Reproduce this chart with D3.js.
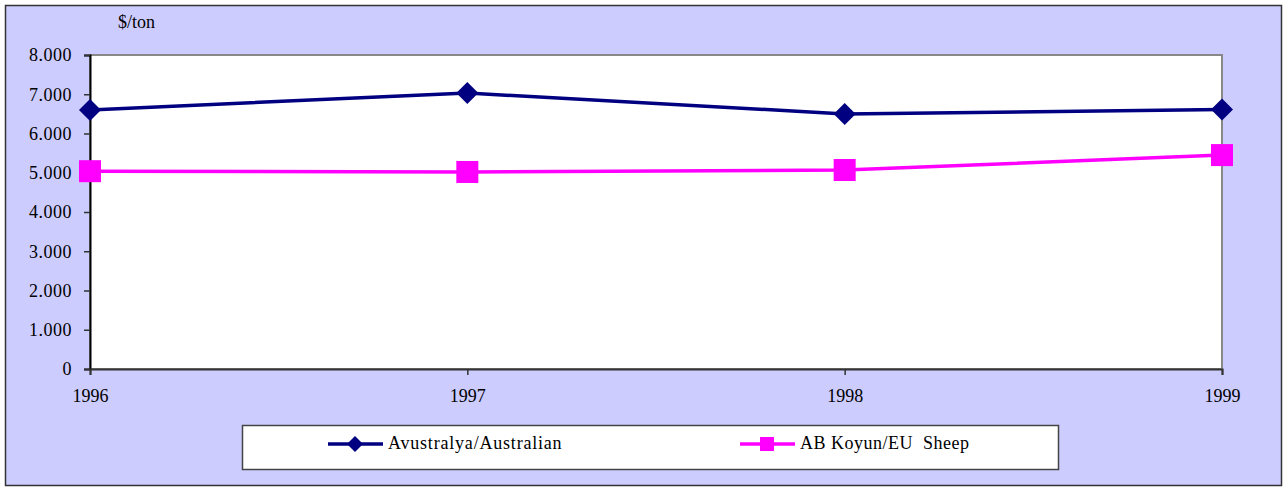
<!DOCTYPE html>
<html>
<head>
<meta charset="utf-8">
<script src="https://cdn.jsdelivr.net/npm/d3@7"></script>
<style>
	body { margin: 0; background: #fff; }
</style>
</head>
<body>
<svg id="chart" width="1285" height="488"></svg>
<script>
// Chart data
var years = ["1996", "1997", "1998", "1999"];
var australian = [6600, 7030, 6500, 6610];
var euSheep = [5040, 5020, 5070, 5450];
var yTicks = [0, 1000, 2000, 3000, 4000, 5000, 6000, 7000, 8000];
var seriesNames = ["Avustralya/Australian", "AB Koyun/EU  Sheep"];

var serif = "'Liberation Serif', 'Times New Roman', Times, 'DejaVu Serif', serif";

var svg = d3.select("#chart");

// outer frame
svg.append("rect")
	.attr("x", 5.5).attr("y", 5.5)
	.attr("width", 1276).attr("height", 480)
	.attr("fill", "#ccccff")
	.attr("stroke", "#333")
	.attr("stroke-width", 1.5);

var margin = {left: 90, top: 55, right: 1222, bottom: 369};

var x = d3.scalePoint()
	.domain(years)
	.range([margin.left, margin.right]);

var y = d3.scaleLinear()
	.domain([0, 8000])
	.range([margin.bottom, margin.top]);

// plot area
svg.append("rect")
	.attr("x", margin.left).attr("y", margin.top)
	.attr("width", margin.right - margin.left)
	.attr("height", margin.bottom - margin.top)
	.attr("fill", "#fff")
	.attr("stroke", "#888")
	.attr("stroke-width", 2);

// y axis
var yAxis = svg.append("g")
	.attr("transform", "translate(" + margin.left + ",0)")
	.call(d3.axisLeft(y)
		.tickValues(yTicks)
		.tickSize(6)
		.tickPadding(12)
		.tickFormat(function(d) { return d === 0 ? "0" : d3.format(",")(d).replace(",", "."); }));
yAxis.attr("font-family", null).attr("font-size", null);
yAxis.select(".domain").attr("stroke", "#000").attr("stroke-width", 2);
yAxis.selectAll(".tick line").attr("stroke", "#333").attr("stroke-width", 1.5);
yAxis.selectAll("text")
	.style("font-family", serif)
	.style("font-size", "18px")
	.style("letter-spacing", "0.5px")
	.style("fill", "#000");

// x axis
var xAxis = svg.append("g")
	.attr("transform", "translate(0," + margin.bottom + ")")
	.call(d3.axisBottom(x)
		.tickSize(6)
		.tickPadding(14));
xAxis.attr("font-family", null).attr("font-size", null);
xAxis.select(".domain").attr("stroke", "#333").attr("stroke-width", 2);
xAxis.selectAll(".tick line").attr("stroke", "#333").attr("stroke-width", 1.5);
xAxis.selectAll("text")
	.style("font-family", serif)
	.style("font-size", "18px")
	.style("fill", "#000");

// unit label
svg.append("text")
	.attr("x", 118).attr("y", 28)
	.style("font-family", serif)
	.style("font-size", "18px")
	.text("$/ton");

var line = d3.line()
	.x(function(d, i) { return x(years[i]); })
	.y(function(d) { return y(d); });

// Australian series
svg.append("path")
	.datum(australian)
	.attr("d", line)
	.attr("fill", "none")
	.attr("stroke", "#000080")
	.attr("stroke-width", 3.5);

svg.selectAll(".diamond")
	.data(australian)
	.enter().append("path")
		.attr("class", "diamond")
		.attr("d", "M0,-11L11,0L0,11L-11,0Z")
		.attr("transform", function(d, i) { return "translate(" + x(years[i]) + "," + y(d) + ")"; })
		.attr("fill", "#000080");

// EU series
svg.append("path")
	.datum(euSheep)
	.attr("d", line)
	.attr("fill", "none")
	.attr("stroke", "#ff00ff")
	.attr("stroke-width", 3.5);

svg.selectAll(".square")
	.data(euSheep)
	.enter().append("rect")
		.attr("class", "square")
		.attr("x", function(d, i) { return x(years[i]) - 11; })
		.attr("y", function(d) { return y(d) - 11; })
		.attr("width", 22).attr("height", 22)
		.attr("fill", "#ff00ff");

// Legend
svg.append("rect")
	.attr("x", 242.5).attr("y", 425.5)
	.attr("width", 816).attr("height", 44)
	.attr("fill", "#fff")
	.attr("stroke", "#444")
	.attr("stroke-width", 1.5);

var legendItems = [
	{name: seriesNames[0], color: "#000080", shape: "diamond", x0: 328},
	{name: seriesNames[1], color: "#ff00ff", shape: "square", x0: 740}
];

legendItems.forEach(function(item) {
	var g = svg.append("g").attr("transform", "translate(" + item.x0 + ",444)");
	g.append("line")
		.attr("x1", 0).attr("x2", 55)
		.attr("stroke", item.color)
		.attr("stroke-width", 3.5);
	if (item.shape == "diamond") {
		g.append("path")
			.attr("d", "M27,-8L35,0L27,8L19,0Z")
			.attr("fill", item.color);
	}
	else {
		g.append("rect")
			.attr("x", 20).attr("y", -7)
			.attr("width", 14).attr("height", 14)
			.attr("fill", item.color);
	}
	g.append("text")
		.attr("x", 60).attr("y", 5)
		.style("font-family", serif)
		.style("font-size", "18px")
		.style("white-space", "pre")
		.style("letter-spacing", item.shape == "diamond" ? "0.8px" : "0.5px")
		.text(item.name);
});
</script>
</body>
</html>
